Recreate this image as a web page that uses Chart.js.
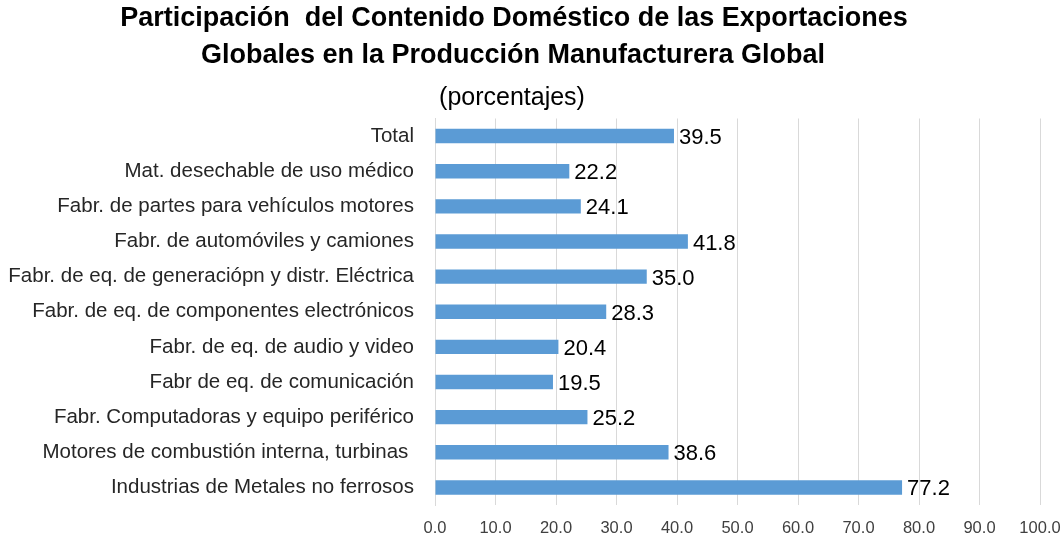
<!DOCTYPE html>
<html>
<head>
<meta charset="utf-8">
<script src="https://cdn.jsdelivr.net/npm/chart.js@4/dist/chart.umd.min.js"></script>
<style>
html,body{margin:0;padding:0;background:#fff;}
#wrap{width:1061px;height:543px;position:relative;}
</style>
</head>
<body>
<div id="wrap"><canvas id="c" width="1061" height="543"></canvas></div>
<script>
const categories = [
  "Total",
  "Mat. desechable de uso médico",
  "Fabr. de partes para vehículos motores",
  "Fabr. de automóviles y camiones",
  "Fabr. de eq. de generaciópn y distr. Eléctrica",
  "Fabr. de eq. de componentes electrónicos",
  "Fabr. de eq. de audio y video",
  "Fabr de eq. de comunicación",
  "Fabr. Computadoras y equipo periférico",
  "Motores de combustión interna, turbinas ",
  "Industrias de Metales no ferrosos"
];
const values = [39.5, 22.2, 24.1, 41.8, 35.0, 28.3, 20.4, 19.5, 25.2, 38.6, 77.2];
const xTicks = [0, 10, 20, 30, 40, 50, 60, 70, 80, 90, 100];
const titleLines = ["Participación  del Contenido Doméstico de las Exportaciones", "Globales en la Producción Manufacturera Global"];
const subtitleText = "(porcentajes)";

const FONT = "'Liberation Sans', Arial, sans-serif";

const titleDraw = {
  id: 'titleDraw',
  afterDraw(chart) {
    const ctx = chart.ctx;
    ctx.save();
    ctx.fillStyle = '#000000';
    ctx.textAlign = 'center';
    ctx.textBaseline = 'alphabetic';
    ctx.font = 'bold 27px ' + FONT;
    ctx.fillText(titleLines[0], 514, 26);
    ctx.fillText(titleLines[1], 513, 63);
    ctx.font = '25px ' + FONT;
    ctx.fillText(subtitleText, 512, 105);
    ctx.restore();
  }
};

const valueLabels = {
  id: 'valueLabels',
  afterDatasetsDraw(chart) {
    const ctx = chart.ctx;
    const meta = chart.getDatasetMeta(0);
    ctx.save();
    ctx.font = "22px " + FONT;
    ctx.fillStyle = "#000000";
    ctx.textAlign = "left";
    ctx.textBaseline = "middle";
    meta.data.forEach((bar, i) => {
      ctx.fillText(values[i].toFixed(1), bar.x + 5, bar.y + 2);
    });
    ctx.restore();
  }
};

new Chart(document.getElementById('c'), {
  type: 'bar',
  data: {
    labels: categories,
    datasets: [{
      data: values,
      backgroundColor: '#5B9BD5',
      borderWidth: 0,
      barPercentage: 0.41,
      categoryPercentage: 1.0
    }]
  },
  options: {
    indexAxis: 'y',
    responsive: false,
    animation: false,
    layout: { padding: { left: 0, right: 0, top: 118.5, bottom: 0 } },
    plugins: {
      legend: { display: false },
      tooltip: { enabled: false },
      title: { display: false },
      subtitle: { display: false }
    },
    scales: {
      x: {
        min: 0,
        max: 100,
        afterBuildTicks(axis) { axis.ticks = xTicks.map(v => ({ value: v })); },
        afterFit(axis) { axis.height = 38; axis.paddingRight = 21; axis.paddingLeft = 0; },
        ticks: {
          color: '#404040',
          font: { family: FONT, size: 16.5 },
          padding: 14,
          callback: (v) => Number(v).toFixed(1)
        },
        grid: { color: '#D9D9D9', lineWidth: 1, drawTicks: false },
        border: { display: false }
      },
      y: {
        afterFit(axis) { axis.width = 435; axis.paddingTop = 0; axis.paddingBottom = 0; },
        ticks: {
          color: '#262626',
          font: { family: FONT, size: 20.5 },
          padding: 21,
          autoSkip: false
        },
        grid: { display: false, drawTicks: false },
        border: { display: true, color: '#D9D9D9', width: 1 }
      }
    }
  },
  plugins: [valueLabels, titleDraw]
});
</script>
</body>
</html>
